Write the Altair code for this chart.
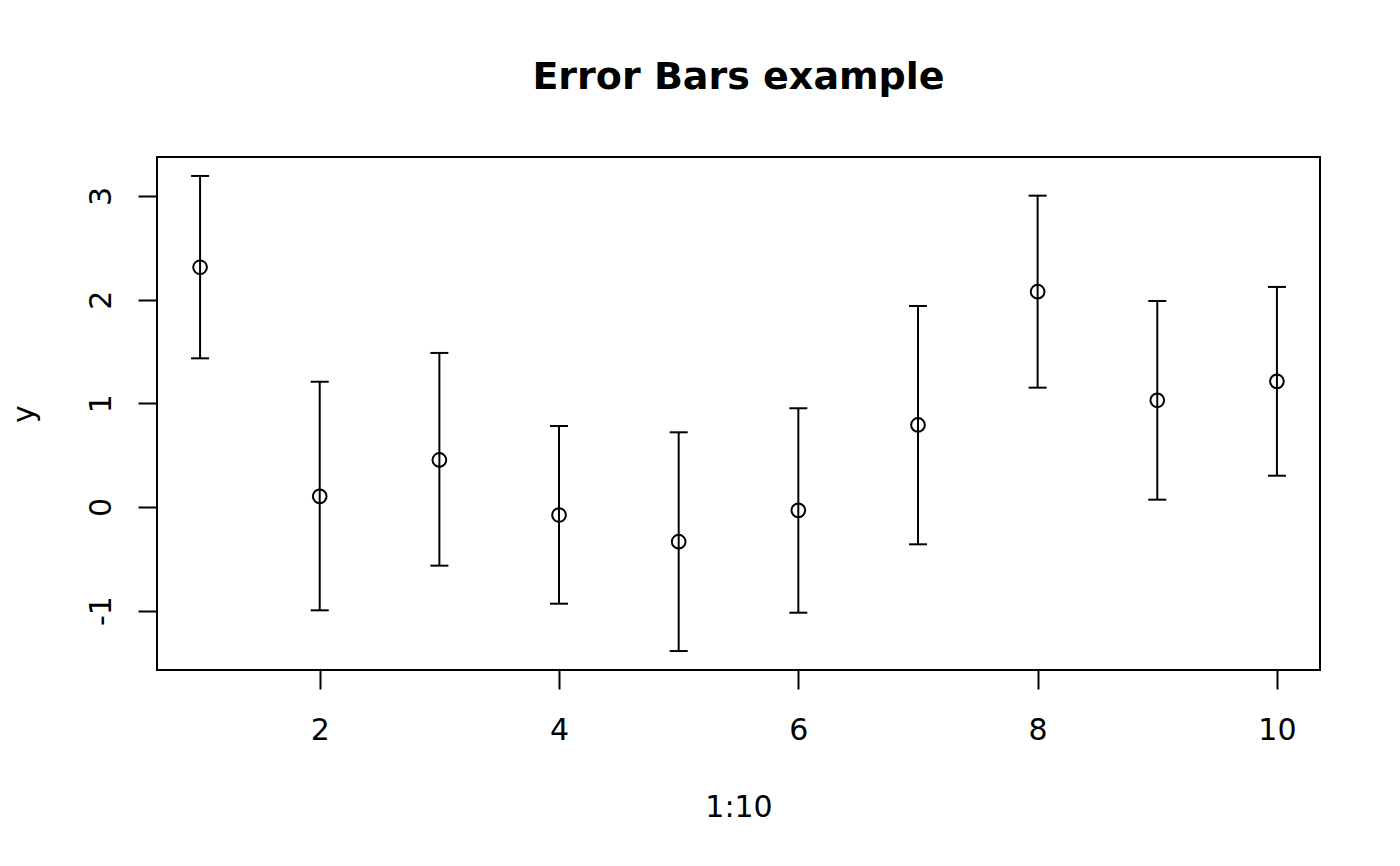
import altair as alt
import pandas as pd

# Data
xs = [1, 2, 3, 4, 5, 6, 7, 8, 9, 10]
centers = [2.313, 0.102, 0.453, -0.078, -0.336, -0.033, 0.791, 2.077, 1.029, 1.212]
uppers = [3.194, 1.208, 1.486, 0.781, 0.720, 0.952, 1.939, 3.004, 1.987, 2.123]
lowers = [1.434, -0.998, -0.567, -0.934, -1.391, -1.021, -0.361, 1.151, 0.070, 0.301]

x_ticks = [2, 4, 6, 8, 10]
y_ticks = [-1, 0, 1, 2, 3]

df = pd.DataFrame({"x": xs, "y": centers, "lo": lowers, "hi": uppers})

W, H = 1163, 513
FONT = "DejaVu Sans"

xscale = alt.Scale(domain=[0.64, 10.36], nice=False, zero=False)
yscale = alt.Scale(domain=[-1.574, 3.377], nice=False, zero=False)

xaxis = alt.Axis(
    values=x_ticks, title="1:10", grid=False, domain=False,
    ticks=True, tickSize=19, tickColor="black", tickWidth=2,
    labelExpr="toString(datum.value)",
    labelFont=FONT, labelFontSize=30, labelColor="black",
    labelBaseline="alphabetic", labelPadding=50, labelFlush=False,
    labelOverlap=False, labelBound=False,
    titleFont=FONT, titleFontSize=30, titleFontWeight="normal", titleColor="black",
    titleBaseline="alphabetic", titleX=W / 2, titleY=146, titleAlign="center",
)
yaxis = alt.Axis(
    values=y_ticks, title="y", grid=False, domain=False,
    ticks=True, tickSize=19, tickColor="black", tickWidth=2,
    labelExpr="toString(datum.value)",
    labelFont=FONT, labelFontSize=30, labelColor="black",
    labelAngle=270, labelAlign="center", labelBaseline="alphabetic",
    labelPadding=28, labelFlush=False, labelOverlap=False, labelBound=False,
    titleFont=FONT, titleFontSize=30, titleFontWeight="normal", titleColor="black",
    titleAngle=270, titleBaseline="alphabetic", titleAlign="center",
    titleX=-124, titleY=H / 2,
)

base = alt.Chart(df)

bars = base.mark_rule(color="black", strokeWidth=2).encode(
    x=alt.X("x:Q", scale=xscale, axis=xaxis),
    y=alt.Y("lo:Q", scale=yscale, axis=yaxis),
    y2="hi:Q",
)
cap_hi = base.mark_tick(orient="horizontal", color="black", size=18, thickness=2, opacity=1).encode(
    x=alt.X("x:Q", scale=xscale), y=alt.Y("hi:Q", scale=yscale)
)
cap_lo = base.mark_tick(orient="horizontal", color="black", size=18, thickness=2, opacity=1).encode(
    x=alt.X("x:Q", scale=xscale), y=alt.Y("lo:Q", scale=yscale)
)
pts = base.mark_point(shape="circle", filled=False, color="black", strokeWidth=2, size=188, opacity=1).encode(
    x=alt.X("x:Q", scale=xscale), y=alt.Y("y:Q", scale=yscale)
)

chart = (
    alt.layer(bars, cap_hi, cap_lo, pts)
    .properties(
        width=W, height=H,
        background="white",
        title=alt.TitleParams(
            "Error Bars example", font=FONT, fontSize=38, fontWeight="bold",
            color="black", anchor="middle", frame="group",
            baseline="alphabetic", offset=30,
        ),
        autosize=alt.AutoSizeParams(type="none"),
        padding={"left": 149, "top": 149, "right": 60, "bottom": 190},
    )
    .configure_view(stroke="black", strokeWidth=2)
)

chart.save("out.html", embed_options={"renderer": "svg", "actions": False})
